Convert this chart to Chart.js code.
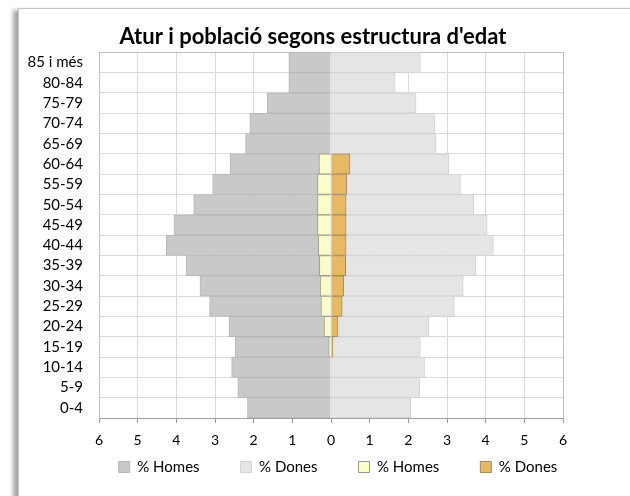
<!DOCTYPE html>
<html><head><meta charset="utf-8">
<script src="https://cdn.jsdelivr.net/npm/chart.js@4"></script>
<style>
html,body{margin:0;padding:0;background:#fff;width:630px;height:496px;overflow:hidden}
#frame{position:absolute;left:18px;top:8px;width:640px;height:520px;border:1px solid #c4c4c4;box-shadow:-5px 2px 4px rgba(0,0,0,0.35);background:#fff}
#wrap{position:absolute;left:0;top:0;width:630px;height:496px}
</style></head><body>
<div id="frame"></div>
<div id="wrap"><canvas id="c" width="630" height="496"></canvas></div>
<script>
const ageGroups = ['85 i més','80-84','75-79','70-74','65-69','60-64','55-59','50-54','45-49','40-44','35-39','30-34','25-29','20-24','15-19','10-14','5-9','0-4'];
const popMen   = [1.09,1.09,1.65,2.10,2.21,2.61,3.06,3.55,4.06,4.26,3.75,3.39,3.14,2.64,2.48,2.57,2.41,2.16];
const popWomen = [2.31,1.66,2.20,2.68,2.72,3.05,3.35,3.69,4.04,4.20,3.74,3.42,3.19,2.53,2.31,2.42,2.30,2.06];
const unempMen   = [0,0,0,0,0,0.31,0.35,0.35,0.35,0.33,0.30,0.28,0.26,0.18,0.06,0,0,0];
const unempWomen = [0,0,0,0,0,0.49,0.41,0.39,0.39,0.39,0.38,0.33,0.29,0.18,0.05,0,0,0];
const seriesLabels = ['% Homes','% Dones','% Homes','% Dones'];
const xTicks = [-6,-5,-4,-3,-2,-1,0,1,2,3,4,5,6];
const titleText = "Atur i població segons estructura d'edat";

Chart.defaults.font.family = 'Lato, "Open Sans", sans-serif';
Chart.defaults.color = '#000';

const legendShift = {
  id: 'legendShift',
  afterLayout(chart, args, opts) {
    const l = chart.legend;
    if (l) { l.left += opts.dx; l.right += opts.dx; l.top += opts.dy; l.bottom += opts.dy; }
  }
};

new Chart(document.getElementById('c'), {
  type: 'bar',
  data: {
    labels: ageGroups,
    datasets: [
      {label: seriesLabels[0], data: popMen.map(v => -v), backgroundColor: '#c9c9c9', borderColor: '#b6b6b6', borderWidth: 1, order: 2},
      {label: seriesLabels[1], data: popWomen, backgroundColor: '#e5e5e5', borderColor: '#d3d3d3', borderWidth: 1, order: 2},
      {label: seriesLabels[2], data: unempMen.map(v => -v), backgroundColor: '#fbfdc9', borderColor: '#9c9c8c', borderWidth: 1, order: 1},
      {label: seriesLabels[3], data: unempWomen, backgroundColor: '#e6b964', borderColor: '#a08c62', borderWidth: 1, order: 1}
    ]
  },
  options: {
    indexAxis: 'y',
    responsive: false,
    animation: false,
    events: [],
    datasets: {bar: {grouped: false, barPercentage: 1, categoryPercentage: 1}},
    layout: {padding: {left: 20, right: 24, top: 23.3, bottom: -18}},
    plugins: {
      title: {display: true, text: titleText, font: {size: 22, weight: 'bold'}, padding: {top: 0, bottom: 2.6}, color: '#000'},
      legend: {
        position: 'bottom',
        labels: {boxWidth: 11, boxHeight: 11, padding: 41, font: {size: 15}, color: '#000',
          sort: (a, b) => a.datasetIndex - b.datasetIndex}
      },
      legendShift: {dx: 25, dy: -29.5},
      tooltip: {enabled: false}
    },
    scales: {
      x: {
        min: xTicks[0], max: xTicks[xTicks.length - 1],
        afterBuildTicks: s => { s.ticks = xTicks.map(v => ({value: v})); },
        ticks: {callback: v => Math.abs(v), font: {size: 14}, padding: 9, maxRotation: 0},
        grid: {color: c => (c.index === 0 || c.index === xTicks.length - 1) ? '#bfbfbf' : '#dadada', tickColor: '#9a9a9a', tickLength: 5},
        border: {color: '#a0a0a0'},
        afterFit: s => { s.height = 30; }
      },
      y: {
        ticks: {font: {size: 15}, padding: 16, autoSkip: false},
        grid: {color: c => c.index === 0 ? '#bfbfbf' : '#dadada', drawTicks: false},
        border: {color: '#bfbfbf'},
        afterFit: s => { s.width = 79; }
      },
      yRight: {
        type: 'linear', axis: 'y', position: 'right', display: true,
        ticks: {display: false}, grid: {display: false, drawTicks: false}, border: {display: false},
        afterFit: s => { s.width = 43; }
      }
    }
  },
  plugins: [legendShift]
});
</script>
</body></html>
